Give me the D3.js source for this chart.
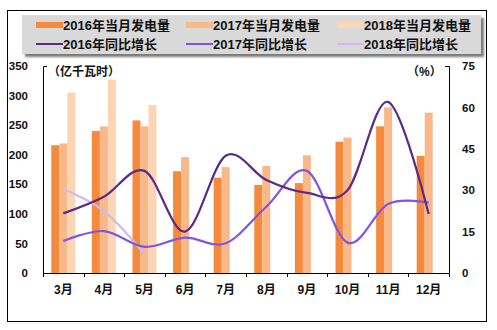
<!DOCTYPE html>
<html>
<head>
<meta charset="utf-8">
<script src="https://cdn.jsdelivr.net/npm/d3@7"></script>
<style>
  html, body { margin: 0; padding: 0; background: #fff; }
  svg text { font-family: "Liberation Sans", Arial, "Noto Sans CJK SC", sans-serif; font-weight: bold; fill: #111; }
</style>
</head>
<body>
<svg id="chart" width="497" height="330"></svg>
<script>
// Monthly generation (100 million kWh) and year-on-year growth (%)
const months = ["3月", "4月", "5月", "6月", "7月", "8月", "9月", "10月", "11月", "12月"];
const gen2016 = [216, 240, 258, 172, 161, 149, 152, 222, 248, 198];
const gen2017 = [219, 248, 248, 196, 179, 181, 199, 229, 280, 271];
const gen2018 = [305, 327, 284, null, null, null, null, null, null, null];
const yoy2016 = [21.6, 27.6, 37, 15, 42.5, 33.7, 29, 30, 62, 21.4];
const yoy2017 = [11.6, 15.2, 9.5, 12.8, 10.8, 24, 37, 11, 25, 25.5];
const yoy2018 = [30.4, 22.5, 6.8, null, null, null, null, null, null, null];
const leftTicks = [0, 50, 100, 150, 200, 250, 300, 350];
const rightTicks = [0, 15, 30, 45, 60, 75];

const barSeries = [
  { name: "2016年当月发电量", values: gen2016, color: "#F68A3C" },
  { name: "2017年当月发电量", values: gen2017, color: "#F8B88A" },
  { name: "2018年当月发电量", values: gen2018, color: "#FBD5B4" }
];
const lineSeries = [
  { name: "2016年同比增长", values: yoy2016, color: "#5B2A88" },
  { name: "2017年同比增长", values: yoy2017, color: "#7E55E4" },
  { name: "2018年同比增长", values: yoy2018, color: "#CDBBEF" }
];

const svg = d3.select("#chart");
const plot = { left: 43, right: 449, top: 66, bottom: 273 };

// outer frame
svg.append("rect").attr("x", 7.5).attr("y", 10.5).attr("width", 479).attr("height", 311)
  .attr("fill", "#fff").attr("stroke", "#000").attr("stroke-width", 1);

// legend panel with drop shadow
const defs = svg.append("defs");
const f = defs.append("filter").attr("id", "shadow").attr("x", "-5%").attr("y", "-20%").attr("width", "115%").attr("height", "160%");
f.append("feGaussianBlur").attr("stdDeviation", 1.2);
svg.append("rect").attr("x", 25).attr("y", 18).attr("width", 459).attr("height", 39)
  .attr("fill", "#7a7a7a").attr("filter", "url(#shadow)");
svg.append("rect").attr("x", 22).attr("y", 15).attr("width", 459).attr("height", 39)
  .attr("fill", "#D9D9D9");

const legendCols = [36, 186, 337];
const legendRows = [25, 44];
barSeries.forEach((s, i) => {
  const g = svg.append("g").attr("transform", `translate(${legendCols[i]},${legendRows[0]})`);
  g.append("rect").attr("x", 0).attr("y", -3).attr("width", 27).attr("height", 6).attr("fill", s.color);
  g.append("text").attr("x", 27).attr("y", 0).attr("dy", "0.36em").attr("font-size", 13).text(s.name);
});
lineSeries.forEach((s, i) => {
  const g = svg.append("g").attr("transform", `translate(${legendCols[i]},${legendRows[1]})`);
  g.append("line").attr("x1", 0).attr("x2", 27).attr("y1", 0).attr("y2", 0)
    .attr("stroke", s.color).attr("stroke-width", 2);
  g.append("text").attr("x", 27).attr("y", 0).attr("dy", "0.36em").attr("font-size", 13).text(s.name);
});

// scales
const x = d3.scaleBand().domain(months).range([plot.left, plot.right]).paddingInner(0).paddingOuter(0);
const yL = d3.scaleLinear().domain([0, 350]).range([plot.bottom, plot.top]);
const yR = d3.scaleLinear().domain([0, 75]).range([plot.bottom, plot.top]);
const barW = 8;
const xc = m => x(m) + x.bandwidth() / 2;

// bars
barSeries.forEach((s, i) => {
  svg.append("g").selectAll("rect")
    .data(months.map((m, j) => ({ m, v: s.values[j] })).filter(d => d.v != null))
    .join("rect")
    .attr("x", d => xc(d.m) - 1.5 * barW + i * barW)
    .attr("y", d => yL(d.v))
    .attr("width", barW)
    .attr("height", d => yL(0) - yL(d.v))
    .attr("fill", s.color);
});

// smoothed growth lines
const line = d3.line()
  .defined(d => d.v != null)
  .x(d => xc(d.m))
  .y(d => yR(d.v))
  .curve(d3.curveCatmullRom.alpha(0));
lineSeries.slice().reverse().forEach(s => {
  svg.append("path")
    .datum(months.map((m, j) => ({ m, v: s.values[j] })))
    .attr("d", line)
    .attr("fill", "none")
    .attr("stroke", s.color)
    .attr("stroke-width", 2.2);
});

// axes
const leftAxis = d3.axisLeft(yL).tickValues(leftTicks).tickSize(0).tickPadding(15);
const gL = svg.append("g").attr("transform", `translate(${plot.left},0)`).call(leftAxis);
gL.select(".domain").remove();
gL.selectAll("text").attr("font-size", 11.5).attr("font-family", null);
svg.append("path").attr("d", `M${plot.left + 4},${plot.top + 0.5}H${plot.left + 0.5}V${plot.bottom}`)
  .attr("fill", "none").attr("stroke", "#000");

const rightAxis = d3.axisRight(yR).tickValues(rightTicks).tickSize(0).tickPadding(13);
const gR = svg.append("g").attr("transform", `translate(${plot.right},0)`).call(rightAxis);
gR.select(".domain").remove();
gR.selectAll("text").attr("font-size", 11.5).attr("font-family", null);
svg.append("path").attr("d", `M${plot.right - 4},${plot.top + 0.5}H${plot.right + 0.5}V${plot.bottom}`)
  .attr("fill", "none").attr("stroke", "#000");

// category axis with boundary ticks
const gB = svg.append("g").attr("transform", `translate(0,${plot.bottom})`);
gB.append("line").attr("x1", plot.left).attr("x2", plot.right + 0.5).attr("y1", 0.5).attr("y2", 0.5).attr("stroke", "#000");
const bounds = months.map(m => x(m)).concat([plot.right]);
gB.selectAll("line.tk").data(bounds).join("line").attr("class", "tk")
  .attr("x1", d => Math.round(d) + 0.5).attr("x2", d => Math.round(d) + 0.5)
  .attr("y1", 0.5).attr("y2", 4).attr("stroke", "#000");
gB.selectAll("text").data(months).join("text")
  .attr("x", d => xc(d)).attr("y", 17).attr("dy", "0.36em")
  .attr("text-anchor", "middle").attr("font-size", 12).text(d => d);

// unit labels
svg.append("text").attr("x", 48).attr("y", 72).attr("dy", "0.36em").attr("font-size", 12).text("（亿千瓦时）");
svg.append("text").attr("x", 407).attr("y", 72).attr("dy", "0.36em").attr("font-size", 12).text("（%）");
</script>
</body>
</html>
